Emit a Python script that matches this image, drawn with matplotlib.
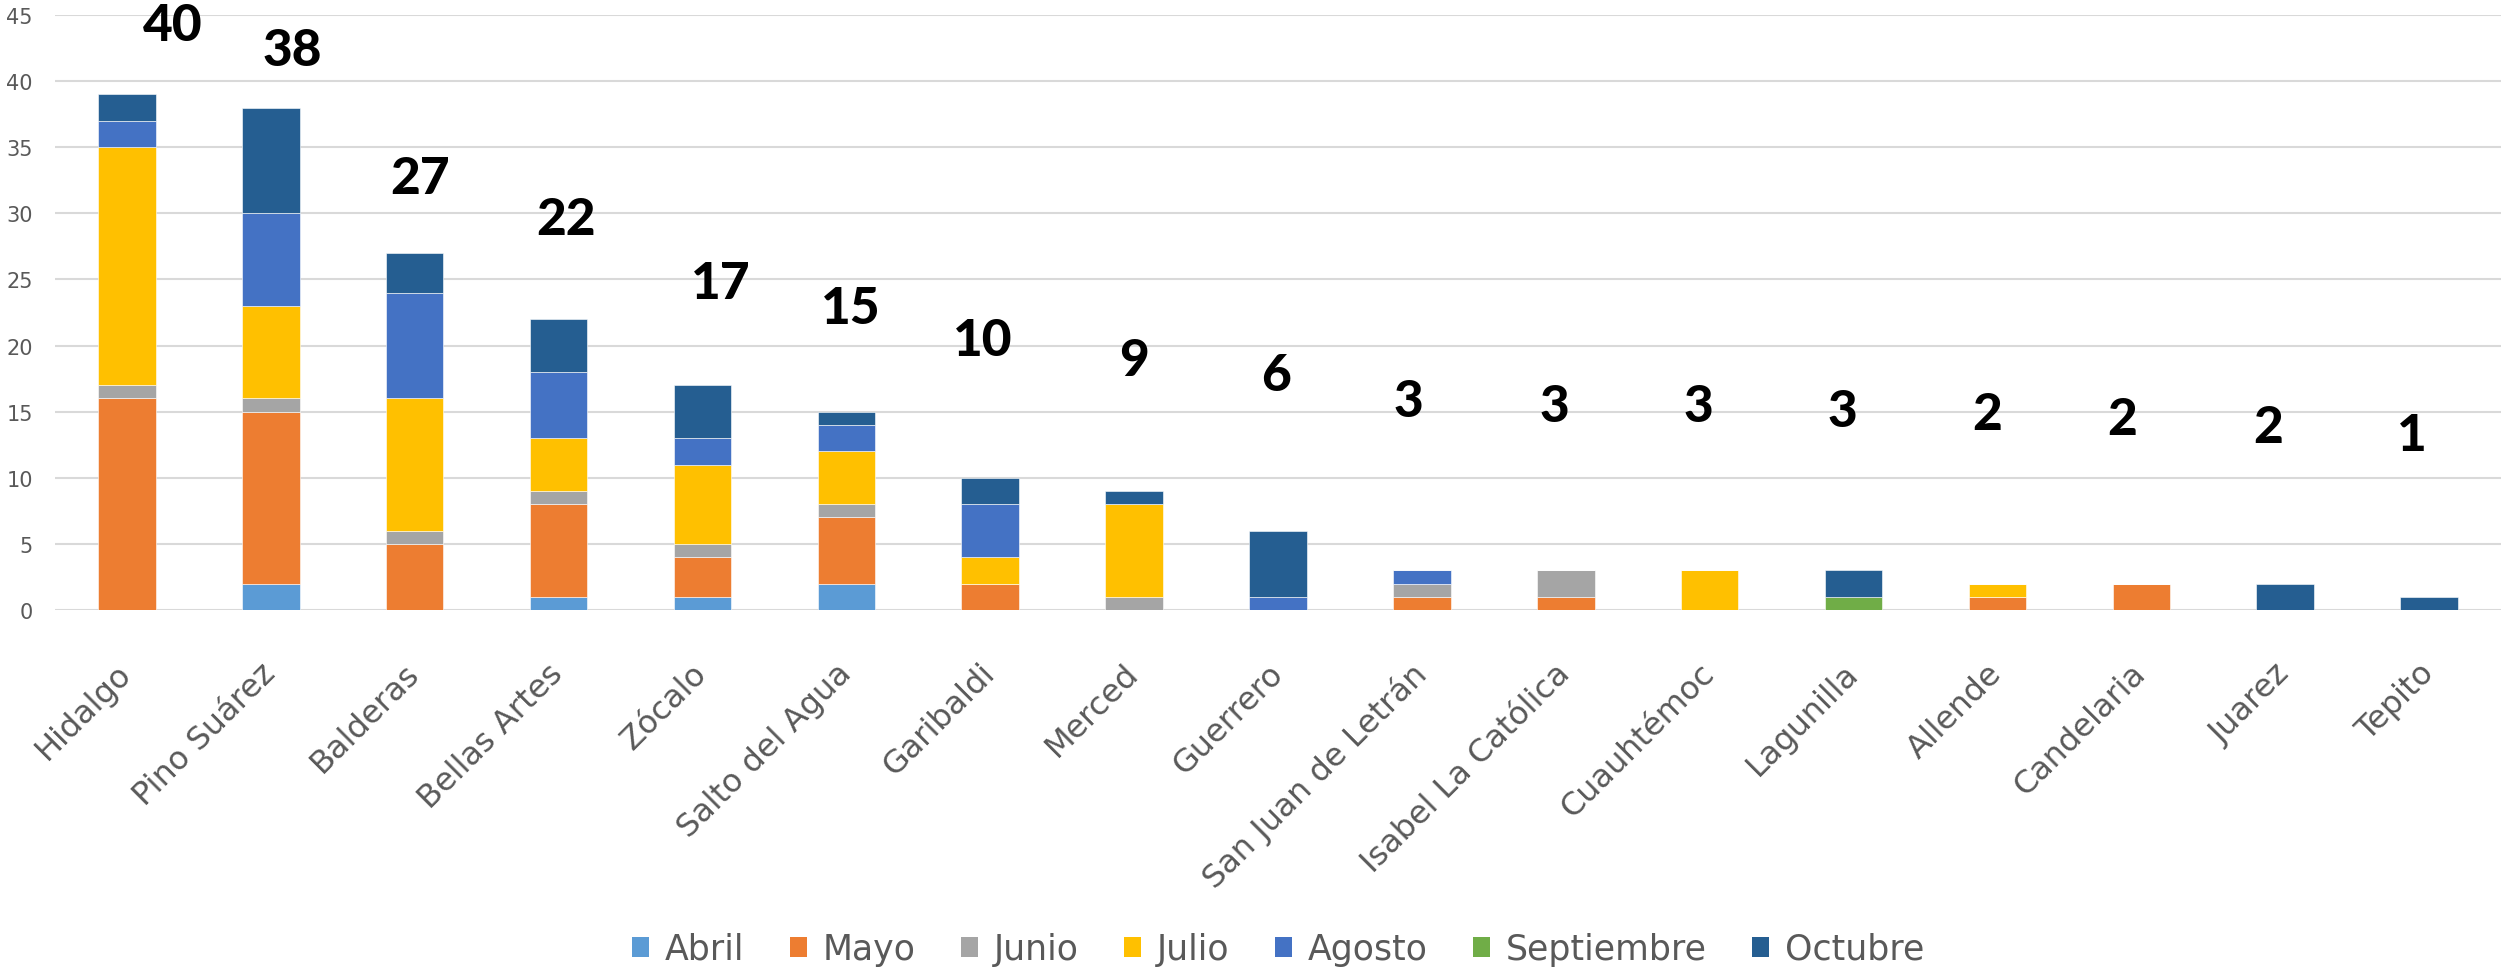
import matplotlib
matplotlib.use("Agg")
import matplotlib.pyplot as plt
import numpy as np
from matplotlib.patches import Patch

categories = ["Hidalgo", "Pino Suárez", "Balderas", "Bellas Artes", "Zócalo",
              "Salto del Agua", "Garibaldi", "Merced", "Guerrero",
              "San Juan de Letrán", "Isabel La Católica", "Cuauhtémoc",
              "Lagunilla", "Allende", "Candelaria", "Juarez", "Tepito"]

abril      = [0, 2, 0, 1, 1, 2, 0, 0, 0, 0, 0, 0, 0, 0, 0, 0, 0]
mayo       = [16, 13, 5, 7, 3, 5, 2, 0, 0, 1, 1, 0, 0, 1, 2, 0, 0]
junio      = [1, 1, 1, 1, 1, 1, 0, 1, 0, 1, 2, 0, 0, 0, 0, 0, 0]
julio      = [18, 7, 10, 4, 6, 4, 2, 7, 0, 0, 0, 3, 0, 1, 0, 0, 0]
agosto     = [2, 7, 8, 5, 2, 2, 4, 0, 1, 1, 0, 0, 0, 0, 0, 0, 0]
septiembre = [0, 0, 0, 0, 0, 0, 0, 0, 0, 0, 0, 0, 1, 0, 0, 0, 0]
octubre    = [2, 8, 3, 4, 4, 1, 2, 1, 5, 0, 0, 0, 2, 0, 0, 2, 1]

series_names = ["Abril", "Mayo", "Junio", "Julio", "Agosto", "Septiembre", "Octubre"]
total_labels = [40, 38, 27, 22, 17, 15, 10, 9, 6, 3, 3, 3, 3, 2, 2, 2, 1]

# layout of the hand-placed total labels (offset in category units, height in data units)
label_dx = [0.32, 0.15, 0.035, 0.05, 0.13, 0.03, -0.05, 0.0, -0.01,
            -0.09, -0.08, -0.08, -0.08, -0.07, -0.13, -0.12, -0.12]
label_y = [44.2, 42.3, 32.6, 29.5, 24.7, 22.8, 20.4, 18.9, 17.7,
           15.8, 15.4, 15.4, 15.0, 14.8, 14.4, 13.8, 13.2]

colors = ["#5B9BD5", "#ED7D31", "#A5A5A5", "#FFC000", "#4472C4", "#70AD47", "#255E91"]
series = [abril, mayo, junio, julio, agosto, septiembre, octubre]

W, H = 2509, 970
fig = plt.figure(figsize=(W / 100, H / 100), dpi=100)
ax = fig.add_axes([55 / W, 1 - 611 / H, (2501 - 55) / W, (611 - 16) / H])

x = np.arange(len(categories))
bottom = np.zeros(len(categories))
for vals, c, name in zip(series, colors, series_names):
    v = np.array(vals, dtype=float)
    ax.bar(x, v, width=0.4, bottom=bottom, color=c, edgecolor="white",
           linewidth=0.4, zorder=3, label=name)
    bottom += v

ax.set_xlim(-0.5, len(categories) - 0.5)
ax.set_ylim(0, 45)
ax.set_yticks(np.arange(0, 46, 5))
ax.yaxis.grid(True, color="#D9D9D9", linewidth=1.5, zorder=0)
ax.set_axisbelow(True)
for s in ["top", "right", "left", "bottom"]:
    ax.spines[s].set_visible(False)
ax.axhline(0, color="#D9D9D9", linewidth=2, zorder=2)

ax.tick_params(axis="y", length=0, pad=16, labelsize=15, labelcolor="#595959")
ax.set_xticks(x)
ax.set_xticklabels(categories, rotation=45, ha="right", va="center",
                   rotation_mode="anchor", fontsize=23, color="#595959")
ax.tick_params(axis="x", length=0, pad=42)

for i, lab in enumerate(total_labels):
    ax.text(x[i] + label_dx[i], label_y[i], str(lab), ha="center", va="center",
            fontsize=37, fontweight="black", color="black",
            family=["Lato", "DejaVu Sans"], zorder=5)

handles = [Patch(facecolor=c, edgecolor="none") for c in colors]
leg = fig.legend(handles, series_names, loc="center",
                 bbox_to_anchor=((55 + 2501) / 2 / W, 1 - 950 / H),
                 ncol=7, frameon=False, fontsize=25, handlelength=0.5,
                 handleheight=0.5, handletextpad=0.45, columnspacing=1.3)
for t in leg.get_texts():
    t.set_color("#595959")

fig.savefig("out.png", dpi=100, facecolor="white")
